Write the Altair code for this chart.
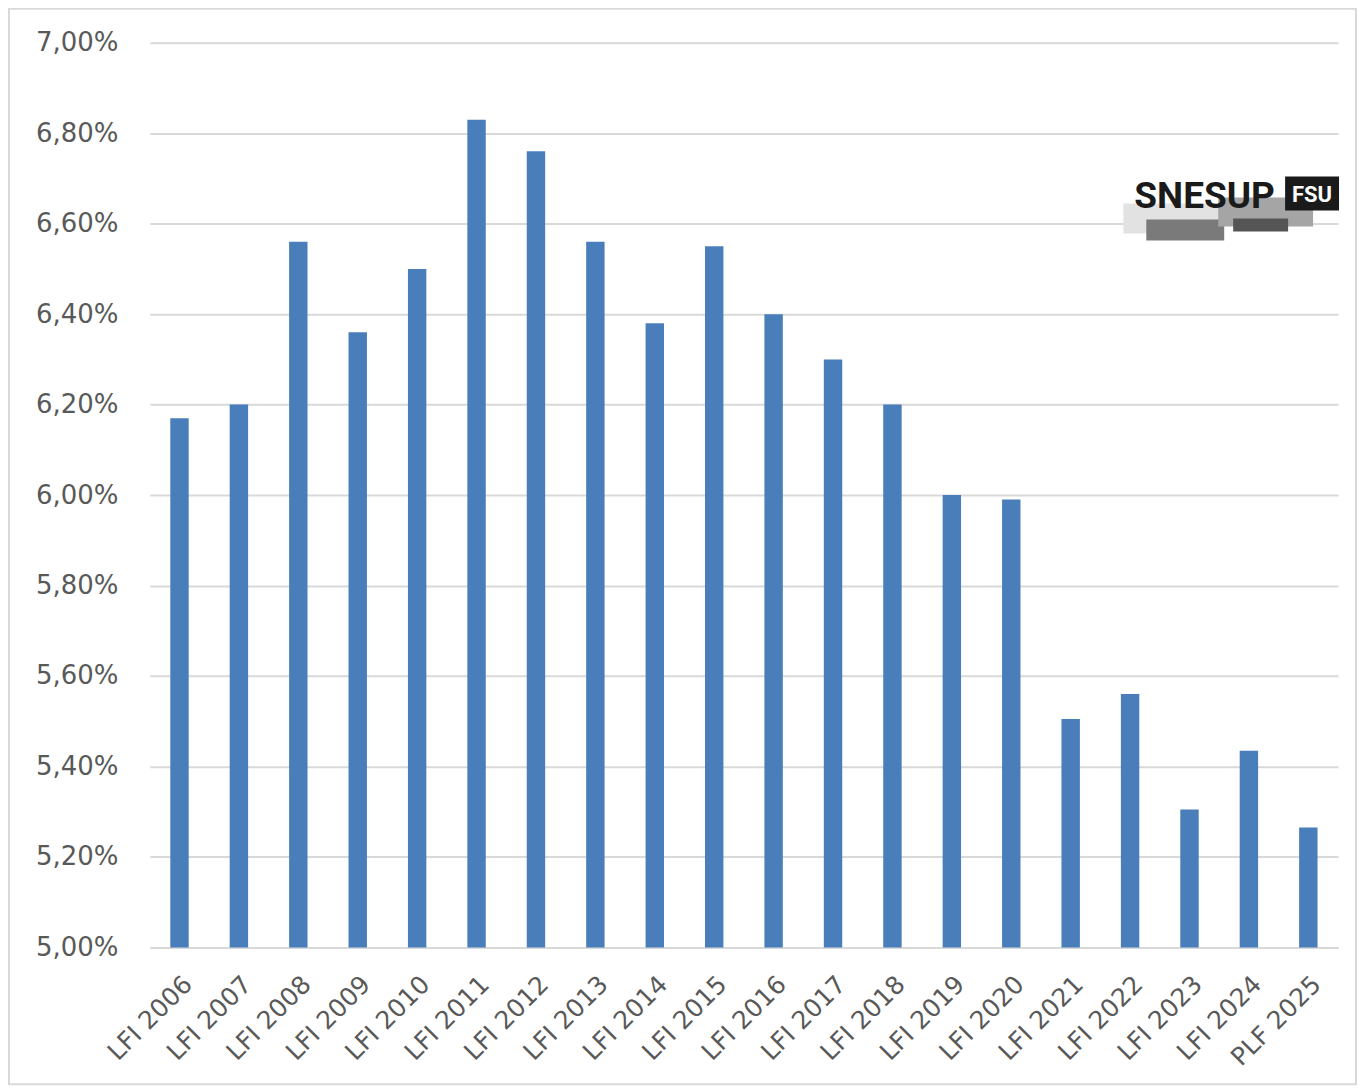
import altair as alt
import pandas as pd

categories = ["LFI 2006", "LFI 2007", "LFI 2008", "LFI 2009", "LFI 2010", "LFI 2011",
              "LFI 2012", "LFI 2013", "LFI 2014", "LFI 2015", "LFI 2016", "LFI 2017",
              "LFI 2018", "LFI 2019", "LFI 2020", "LFI 2021", "LFI 2022", "LFI 2023",
              "LFI 2024", "PLF 2025"]
values = [6.17, 6.20, 6.56, 6.36, 6.50, 6.83, 6.76, 6.56, 6.38, 6.55,
          6.40, 6.30, 6.20, 6.00, 5.99, 5.505, 5.56, 5.305, 5.435, 5.265]
y_ticks = [5.0, 5.2, 5.4, 5.6, 5.8, 6.0, 6.2, 6.4, 6.6, 6.8, 7.0]

df = pd.DataFrame({"cat": categories, "val": values})

W, H = 1190, 906
OX, OY = 150, 42  # page position of plot area (incl. 8px margin)

bars = alt.Chart(df).mark_bar(color="#4a7ebb").encode(
    x=alt.X("cat:N", sort=categories, title=None,
            scale=alt.Scale(paddingInner=0.69, paddingOuter=0.345),
            axis=alt.Axis(labelAngle=-45, labelFontSize=25, labelColor="#595959",
                          labelFont="DejaVu Sans", ticks=False, domain=True,
                          domainColor="#d9d9d9", domainWidth=2, labelPadding=24,
                          labelAlign="right", labelBaseline="top")),
    y=alt.Y("val:Q", title=None,
            scale=alt.Scale(domain=[5, 7], zero=False, nice=False),
            axis=alt.Axis(values=y_ticks, grid=True, gridColor="#d9d9d9", gridWidth=2,
                          ticks=False, domain=False, labelFontSize=26,
                          labelColor="#595959", labelFont="DejaVu Sans",
                          labelPadding=32,
                          labelExpr="replace(format(datum.value, '.2f'), '.', ',') + '%'")),
    y2=alt.datum(5),
)

one = alt.Data(values=[{}])

def rect(x1, y1, x2, y2, color, **kw):
    return alt.Chart(one).mark_rect(color=color, **kw).encode(
        x=alt.value(x1 - OX), x2=alt.value(x2 - OX),
        y=alt.value(y1 - OY), y2=alt.value(y2 - OY))

def text(x, y, s, **kw):
    return alt.Chart(one).mark_text(**kw).encode(
        x=alt.value(x - OX), y=alt.value(y - OY), text=alt.value(s))

border = alt.Chart(one).mark_rect(filled=False, stroke="#d9d9d9", strokeWidth=2).encode(
    x=alt.value(9 - OX), x2=alt.value(1358 - OX),
    y=alt.value(8 - OY), y2=alt.value(1085 - OY))

logo_font = "Roboto"
logo = [
    rect(1125, 203, 1225, 233, "#e2e2e2"),
    rect(1148, 219, 1226, 240, "#7a7a7a"),
    rect(1220, 197, 1315, 226, "#a5a5a5"),
    rect(1235, 218, 1290, 231, "#555555"),
    text(1136, 207, "SNESUP", font=logo_font, fontWeight="bold",
         fontSize=37, color="#1a1a1a", align="left", baseline="alphabetic"),
    rect(1287, 176, 1341, 210, "#1a1a1a"),
    text(1314, 194, "FSU", font=logo_font, fontWeight="bold",
         fontSize=22, color="white", align="center", baseline="middle"),
]

chart = alt.layer(bars, border, *logo).properties(
    width=W, height=H,
    autosize=alt.AutoSizeParams(type="none"),
    padding={"left": OX - 8, "top": OY - 8, "right": 20, "bottom": 140},
).configure(background="white").configure_view(stroke=None)

chart.save("out.html", embed_options={"renderer": "svg", "actions": False})
